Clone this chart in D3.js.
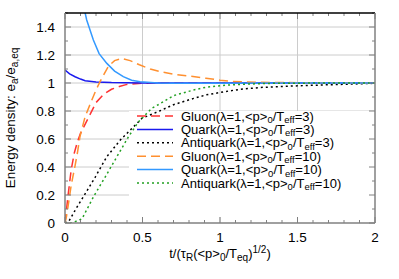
<!DOCTYPE html>
<html>
<head>
<script src="https://d3js.org/d3.v7.min.js"></script>
<style>
  body { margin: 0; background: #fff; }
  svg text { font-family: "Liberation Sans", Arial, sans-serif; }
</style>
</head>
<body>
<svg id="chart" width="399" height="279"></svg>
<script>
// values
var gluon3T = [0, 0.01, 0.02, 0.04, 0.06, 0.08, 0.1, 0.15, 0.2, 0.25, 0.3, 0.35, 0.4, 0.5, 0.6, 0.8, 1, 1.5, 2];
var gluon3E = [0, 0.1, 0.2, 0.38, 0.5, 0.58, 0.64, 0.75, 0.86, 0.92, 0.955, 0.975, 0.99, 0.998, 1.0, 1.0, 1.0, 1.0, 1.0];

var quark3T = [0, 0.03, 0.065, 0.1, 0.13, 0.2, 0.3, 0.5, 1, 1.5, 2];
var quark3E = [1.093, 1.065, 1.045, 1.028, 1.016, 1.007, 1.003, 1.0, 1.0, 1.0, 1.0];

var anti3T = [0, 0.024, 0.07, 0.12, 0.196, 0.27, 0.357, 0.432, 0.497, 0.61, 0.7, 0.83, 0.91, 1.04, 1.13, 1.26, 1.5, 1.69, 2];
var anti3E = [0, 0.01, 0.1, 0.19, 0.33, 0.474, 0.593, 0.676, 0.748, 0.8, 0.845, 0.89, 0.915, 0.94, 0.955, 0.968, 0.98, 0.987, 0.998];

var gluon10T = [0, 0.01, 0.02, 0.04, 0.065, 0.08, 0.097, 0.13, 0.17, 0.2, 0.226, 0.28, 0.32, 0.365, 0.42, 0.48, 0.55, 0.62, 0.7, 0.8, 0.91, 1.0, 1.08, 1.25, 1.4, 1.6, 1.8, 2];
var gluon10E = [0, 0.05, 0.12, 0.27, 0.41, 0.5, 0.62, 0.76, 0.87, 0.95, 1.01, 1.12, 1.16, 1.176, 1.16, 1.13, 1.1, 1.08, 1.063, 1.05, 1.034, 1.02, 1.01, 1.005, 1.003, 1.002, 1.001, 1.0];

var quark10T = [0, 0.05, 0.1, 0.14, 0.183, 0.22, 0.27, 0.32, 0.376, 0.43, 0.484, 0.6, 0.7, 1, 1.5, 2];
var quark10E = [2.6, 2.0, 1.65, 1.45, 1.307, 1.21, 1.14, 1.085, 1.045, 1.02, 1.009, 1.0, 0.998, 0.999, 1.0, 1.0];

var anti10T = [0, 0.045, 0.11, 0.185, 0.26, 0.335, 0.41, 0.475, 0.56, 0.61, 0.7, 0.83, 0.91, 1.04, 1.13, 1.3, 1.5, 2];
var anti10E = [0, 0, 0.03, 0.19, 0.33, 0.474, 0.617, 0.724, 0.819, 0.85, 0.91, 0.95, 0.97, 0.985, 0.99, 0.997, 0.999, 1.0];

var xTicks = [0, 0.5, 1, 1.5, 2];
var yTicks = [0, 0.2, 0.4, 0.6, 0.8, 1, 1.2, 1.4];

var series = [
  {name: "Gluon", T: "3", t: gluon3T, e: gluon3E, color: "#ff3333", dash: "9,5"},
  {name: "Quark", T: "3", t: quark3T, e: quark3E, color: "#1a1aee", dash: null},
  {name: "Antiquark", T: "3", t: anti3T, e: anti3E, color: "#000000", dash: "2,3"},
  {name: "Gluon", T: "10", t: gluon10T, e: gluon10E, color: "#ff9030", dash: "9,5"},
  {name: "Quark", T: "10", t: quark10T, e: quark10E, color: "#3399ff", dash: null},
  {name: "Antiquark", T: "10", t: anti10T, e: anti10E, color: "#22a022", dash: "2,3"}
];

var svg = d3.select("#chart");
var margin = {left: 65, top: 13, right: 24, bottom: 56};
var W = 399 - margin.left - margin.right,
    H = 279 - margin.top - margin.bottom;

var x = d3.scaleLinear().domain([0, 2]).range([0, W]);
var y = d3.scaleLinear().domain([0, 1.5]).range([H, 0]);

var g = svg.append("g").attr("transform", "translate(" + margin.left + "," + margin.top + ")");

g.append("clipPath").attr("id", "clip")
  .append("rect").attr("width", W).attr("height", H);

// grid
g.selectAll(".gx").data(xTicks.slice(1, -1)).enter().append("line")
  .attr("x1", d => x(d)).attr("x2", d => x(d)).attr("y1", 0).attr("y2", H)
  .attr("stroke", "#cccccc").attr("stroke-width", 1);
g.selectAll(".gy").data(yTicks.slice(1)).enter().append("line")
  .attr("y1", d => y(d)).attr("y2", d => y(d)).attr("x1", 0).attr("x2", W)
  .attr("stroke", "#cccccc").attr("stroke-width", 1);

// legend box (hides grid)
var legX = 64, legY = 98;
g.append("rect").attr("x", legX).attr("y", legY).attr("width", W - legX - 1).attr("height", 106)
  .attr("fill", "#fff");

// curves
var line = d3.line().x(d => x(d[0])).y(d => y(d[1]));
var plot = g.append("g").attr("clip-path", "url(#clip)");
series.forEach(function(s) {
  var pts = s.t.map((t, i) => [t, s.e[i]]);
  plot.append("path").datum(pts)
    .attr("d", line)
    .attr("fill", "none")
    .attr("stroke", s.color)
    .attr("stroke-width", 1.5)
    .attr("stroke-dasharray", s.dash);
});

// axes: ticks inward on all sides
var tickColor = "#808080";
function minor(n, step) { var a = []; for (var i = 0; i <= n; i++) a.push(+(i * step).toFixed(2)); return a; }
var xMinor = minor(20, 0.1), yMinor = minor(15, 0.1);

var ax = g.append("g").attr("stroke", tickColor).attr("stroke-width", 1);
xMinor.forEach(function(v) {
  var len = xTicks.indexOf(v) >= 0 ? 6 : 3;
  ax.append("line").attr("x1", x(v)).attr("x2", x(v)).attr("y1", H).attr("y2", H - len);
  ax.append("line").attr("x1", x(v)).attr("x2", x(v)).attr("y1", 0).attr("y2", len);
});
yMinor.forEach(function(v) {
  var len = yTicks.indexOf(v) >= 0 ? 6 : 3;
  ax.append("line").attr("y1", y(v)).attr("y2", y(v)).attr("x1", 0).attr("x2", len);
  ax.append("line").attr("y1", y(v)).attr("y2", y(v)).attr("x1", W).attr("x2", W - len);
});

// frame
g.append("line").attr("x1", 0).attr("x2", W).attr("y1", 0).attr("y2", 0).attr("stroke", "#000").attr("stroke-width", 1.5);
g.append("line").attr("x1", 0).attr("x2", W).attr("y1", H).attr("y2", H).attr("stroke", tickColor).attr("stroke-width", 1.5);
g.append("line").attr("x1", 0).attr("x2", 0).attr("y1", 0).attr("y2", H).attr("stroke", tickColor).attr("stroke-width", 1.5);
g.append("line").attr("x1", W).attr("x2", W).attr("y1", 0).attr("y2", H).attr("stroke", tickColor).attr("stroke-width", 1.5);

// tick labels
g.selectAll(".xl").data(xTicks).enter().append("text")
  .attr("x", d => x(d)).attr("y", H + 19).attr("text-anchor", "middle")
  .attr("font-size", 13.5).text(d => d);
g.selectAll(".yl").data(yTicks).enter().append("text")
  .attr("x", -10).attr("y", d => y(d) + 5).attr("text-anchor", "end")
  .attr("font-size", 13.5).text(d => d);

// axis titles
var xt = g.append("text").attr("x", W / 2).attr("y", H + 35).attr("text-anchor", "middle").attr("font-size", 13);
xt.append("tspan").text("t/(\u03C4");
xt.append("tspan").attr("font-size", 10).attr("dy", 3).text("R");
xt.append("tspan").attr("dy", -3).text("(<p>");
xt.append("tspan").attr("font-size", 10).attr("dy", 3).text("0");
xt.append("tspan").attr("dy", -3).text("/T");
xt.append("tspan").attr("font-size", 10).attr("dy", 3).text("eq");
xt.append("tspan").attr("dy", -3).text(")");
xt.append("tspan").attr("font-size", 10).attr("dy", -5).text("1/2");
xt.append("tspan").attr("dy", 5).text(")");

var yt = svg.append("text")
  .attr("transform", "translate(15," + (margin.top + H / 2) + ") rotate(-90)")
  .attr("text-anchor", "middle").attr("font-size", 13.5);
yt.append("tspan").text("Energy density: e");
yt.append("tspan").attr("font-size", 10).attr("dy", 3).text("a");
yt.append("tspan").attr("dy", -3).text("/e");
yt.append("tspan").attr("font-size", 10).attr("dy", 3).text("a,eq");

// legend
var leg = g.append("g");
series.forEach(function(s, i) {
  var yy = 103 + i * 13.4;
  leg.append("line").attr("x1", 72).attr("x2", 108).attr("y1", yy).attr("y2", yy)
    .attr("stroke", s.color).attr("stroke-width", 1.5).attr("stroke-dasharray", s.dash);
  var t = leg.append("text").attr("x", 116).attr("y", yy + 4.5).attr("font-size", 13);
  t.append("tspan").text(s.name + "(\u03BB=1,<p>");
  t.append("tspan").attr("font-size", 9.5).attr("dy", 2.5).text("0");
  t.append("tspan").attr("dy", -2.5).text("/T");
  t.append("tspan").attr("font-size", 9.5).attr("dy", 2.5).text("eff");
  t.append("tspan").attr("dy", -2.5).text("=" + s.T + ")");
});
</script>
</body>
</html>
